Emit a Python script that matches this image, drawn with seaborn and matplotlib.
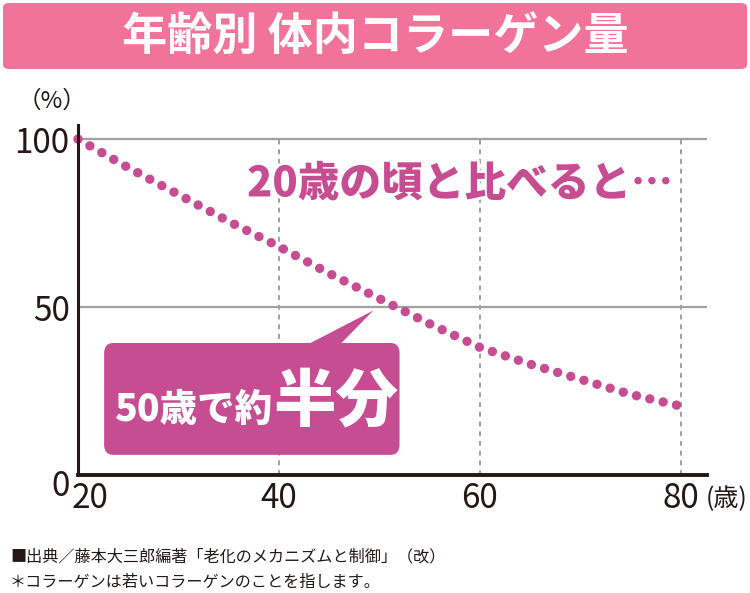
import matplotlib
matplotlib.use('Agg')
import matplotlib.pyplot as plt
import matplotlib.patheffects as pe
from matplotlib.patches import FancyBboxPatch, Polygon
from matplotlib.transforms import ScaledTranslation
import seaborn as sns
import pandas as pd

# DATA
ages = [20, 25, 30, 35, 40, 45, 50, 55, 60, 65, 70, 75, 80]
collagen = [100, 91.5, 83.5, 75.5, 68, 60, 52.5, 45, 38, 33, 28.5, 24, 20.5]
x_ticks = [20, 40, 60, 80]
y_ticks = [0, 50, 100]
title = '年齢別 体内コラーゲン量'
note = '20歳の頃と比べると…'
source_lines = ['■出典／藤本大三郎編著「老化のメカニズムと制御」（改）',
                '＊コラーゲンは若いコラーゲンのことを指します。']

df = pd.DataFrame({'age': ages, 'collagen': collagen})

# STYLING
sns.set_theme(style='white')
plt.rcParams['font.family'] = ['Noto Sans CJK JP', 'DejaVu Sans']
pink = '#c64d92'
banner = '#f27399'
ink = '#231815'

fig = plt.figure(figsize=(7.5, 5.93), dpi=100)
ax = fig.add_axes([78 / 750, 118 / 593, 629 / 750, 350 / 593])

sns.lineplot(data=df, x='age', y='collagen', ax=ax, color=pink, linewidth=6.8)
line = ax.lines[0]
line.set_linestyle((0, (0.001, 1.45)))
line.set_dash_capstyle('round')
line.set_clip_on(False)

ax.set_xlim(20, 82.6)
ax.set_ylim(0, 104.2)
ax.set_xticks(x_ticks)
ax.set_yticks(y_ticks)
ax.tick_params(axis='both', length=0, labelsize=24, colors=ink)
ax.tick_params(axis='x', pad=4)
ax.tick_params(axis='y', pad=6)
ax.set_xlabel('')
ax.set_ylabel('')

# nudge the corner labels apart like the original
fig.canvas.draw()
xl = ax.get_xticklabels()[0]
xl.set_transform(xl.get_transform() + ScaledTranslation(0.12, 0, fig.dpi_scale_trans))
yl = ax.get_yticklabels()[0]
yl.set_transform(yl.get_transform() + ScaledTranslation(0, -0.07, fig.dpi_scale_trans))

# grid
for t in y_ticks[1:]:
    ax.axhline(t, color='#a0a0a0', lw=1.6, zorder=0)
ax.vlines(x_ticks[1:], 0, 100, colors='#a0a0a0', linestyles=(0, (2.5, 2.5)), lw=1.4, zorder=0)

for s in ['top', 'right']:
    ax.spines[s].set_visible(False)
ax.spines['left'].set_color(ink)
ax.spines['left'].set_linewidth(2.2)
ax.spines['bottom'].set_color(ink)
ax.spines['bottom'].set_linewidth(2.8)

# axis units
fig.text(52 / 750, 1 - 101 / 593, '（%）', fontsize=17, color=ink,
         ha='center', va='center')
fig.text(747 / 750, 1 - 499 / 593, '(歳)', fontsize=18, color=ink,
         ha='right', va='center')

# title banner
fig.patches.append(FancyBboxPatch((3 / 750, 1 - 69 / 593), 744 / 750, 66 / 593,
                                  boxstyle='round,pad=0,rounding_size=0.008',
                                  transform=fig.transFigure, facecolor=banner,
                                  edgecolor='none', zorder=0))
fig.text(0.5, 1 - 37 / 593, title, fontsize=32.5, fontweight='bold',
         color='white', ha='center', va='center')

# comparison note
ax.text(58.0, 86.5, note, fontsize=30, fontweight='heavy', color=pink,
        ha='center', va='center',
        path_effects=[pe.withStroke(linewidth=4, foreground='white')])

# callout
ax.add_patch(Polygon([(42.3, 38), (45.8, 38), (49.4, 49)], closed=True,
                     facecolor=pink, edgecolor='none', zorder=4))
ax.add_patch(FancyBboxPatch((22.6, 6.0), 29.4, 33.3,
                            boxstyle='round,pad=0,rounding_size=0.9',
                            mutation_aspect=3.3, facecolor=pink, edgecolor='none', zorder=4))
ax.text(23.6, 19.3, '50歳で約', fontsize=27, fontweight='heavy',
        color='white', ha='left', va='center', zorder=5)
ax.text(39.4, 21.5, '半分', fontsize=45, fontweight='heavy',
        color='white', ha='left', va='center', zorder=5)

# source
fig.text(10 / 750, 1 - 557 / 593, source_lines[0], fontsize=11.6,
         color=ink, ha='left', va='center')
fig.text(10 / 750, 1 - 582 / 593, source_lines[1], fontsize=11.6,
         color=ink, ha='left', va='center')

fig.savefig('out.png', dpi=100)
